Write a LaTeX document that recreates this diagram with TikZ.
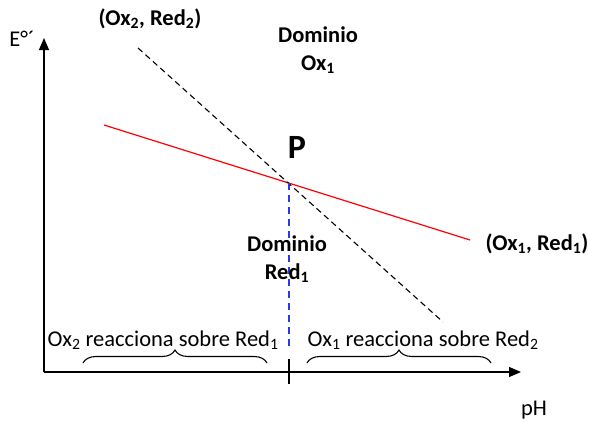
\documentclass[tikz,border=0pt]{standalone}
\usepackage{fontspec}
\setmainfont{Carlito}
\usetikzlibrary{arrows.meta,decorations.pathreplacing,positioning}
\definecolor{LineBlue}{RGB}{40,60,230}

\begin{document}
\begin{tikzpicture}[x=1pt, y=-1pt,
    lbl/.style={font=\bfseries\fontsize{22.5}{28}\selectfont, align=center, inner sep=0pt},
    txt/.style={font=\fontsize{22.5}{27}\selectfont, inner sep=0pt},
    axis/.style={-{Triangle[length=12pt,width=10pt]}, line width=1.2pt},
    brc/.style={decorate, decoration={brace, amplitude=13pt}, line width=1.1pt}
]
  \useasboundingbox (0,0) rectangle (589,421);

  % -------------------------------------------------------------
  % EJES
  % -------------------------------------------------------------
  \coordinate (O) at (44,372);
  \coordinate (ytop) at (44,38);
  \coordinate (xend) at (521,372);
  \draw[axis] (O) -- (ytop);
  \draw[axis] (O) -- (xend);
  \node[txt] (eaxis) at (22,39) {E°´};
  \node[txt] (phaxis) at (534,410) {pH};

  % marca en el eje de pH
  \coordinate (tick_top) at (289,359);
  \coordinate (tick_bot) at (289,384);
  \draw[line width=1.2pt] (tick_top) -- (tick_bot);

  % -------------------------------------------------------------
  % RECTAS DE LOS PARES REDOX
  % -------------------------------------------------------------
  \coordinate (r_a) at (104,125);
  \coordinate (r_b) at (470,240);
  \coordinate (n_a) at (138,48);
  \coordinate (n_b) at (443,322);
  \draw[red, line width=1.2pt] (r_a) -- (r_b);
  \draw[black, line width=1.1pt, dash pattern=on 6pt off 4pt] (n_a) -- (n_b);

  % punto de corte
  \coordinate (P) at (289,183);
  \coordinate (p_bot) at (289,346);
  \draw[LineBlue, line width=1.2pt, dash pattern=on 7pt off 5pt] (P) -- (p_bot);
  \node[font=\bfseries\fontsize{34}{36}\selectfont, inner sep=0pt] (plabel) at (297,147) {P};

  % -------------------------------------------------------------
  % ETIQUETAS
  % -------------------------------------------------------------
  \node[lbl] (par2) at (150,19) {(Ox\textsubscript{2}, Red\textsubscript{2})};
  \node[lbl] (par1) at (537,244) {(Ox\textsubscript{1}, Red\textsubscript{1})};
  \node[lbl] (dom_ox) at (318,50) {Dominio\\Ox\textsubscript{1}};
  \node[lbl] (dom_red) at (287,259) {Dominio\\Red\textsubscript{1}};

  % -------------------------------------------------------------
  % LLAVES Y REACCIONES
  % -------------------------------------------------------------
  \coordinate (b1_a) at (83,363);
  \coordinate (b1_b) at (267,363);
  \coordinate (b2_a) at (307,363);
  \coordinate (b2_b) at (491,363);
  \draw[brc] (b1_a) -- (b1_b);
  \draw[brc] (b2_a) -- (b2_b);
  \node[txt] (reac2) at (163,340) {Ox\textsubscript{2} reacciona sobre Red\textsubscript{1}};
  \node[txt] (reac1) at (423,340) {Ox\textsubscript{1} reacciona sobre Red\textsubscript{2}};

\end{tikzpicture}
\end{document}
